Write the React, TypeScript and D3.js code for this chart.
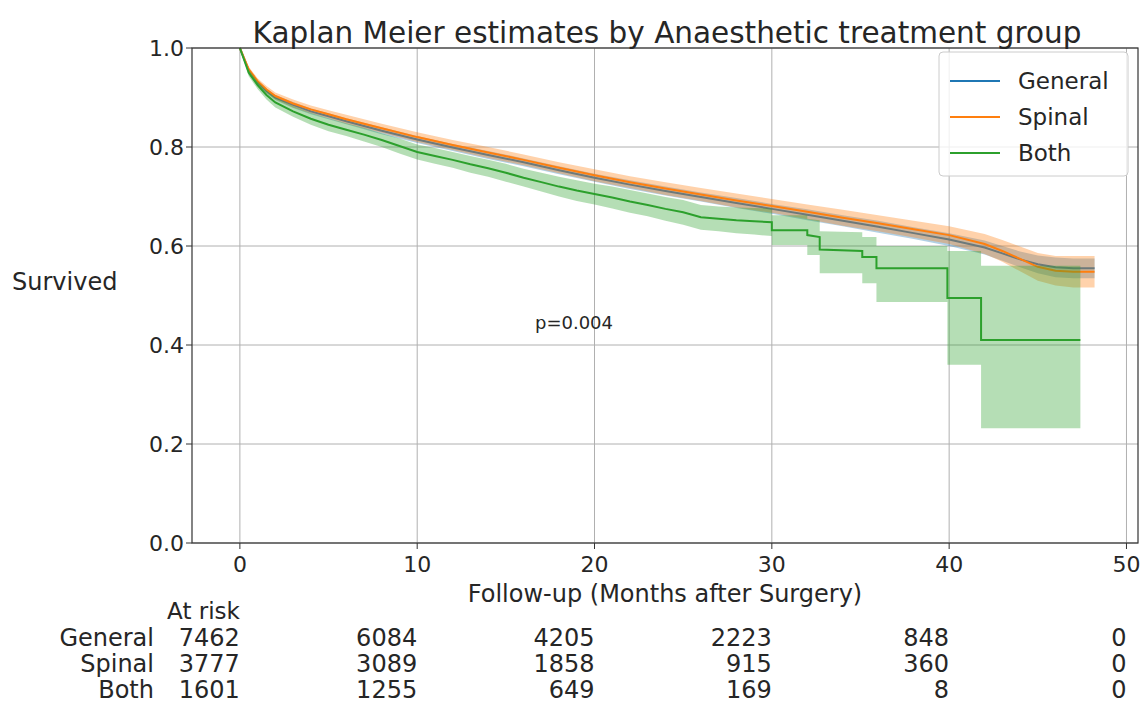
import * as d3 from 'd3';

const groups = ['General', 'Spinal', 'Both'];
const colors = ['#1f77b4', '#ff7f0e', '#2ca02c'];

// survival estimates (months, S(t), CI)
const generalTime = [0, 0.5, 1, 1.5, 2, 3, 4, 5, 6, 8, 10, 12, 14, 16, 18, 20, 22, 24, 26, 28, 30, 32, 34, 36, 38, 40, 42, 43, 44, 45, 46, 47, 48.2];
const generalSurv = [1, 0.955, 0.93, 0.913, 0.9, 0.885, 0.872, 0.862, 0.852, 0.833, 0.815, 0.799, 0.784, 0.769, 0.753, 0.738, 0.724, 0.711, 0.699, 0.687, 0.675, 0.663, 0.651, 0.639, 0.626, 0.613, 0.597, 0.585, 0.573, 0.563, 0.557, 0.555, 0.555];
const generalLower = [1, 0.951, 0.925, 0.908, 0.895, 0.879, 0.866, 0.856, 0.846, 0.826, 0.808, 0.792, 0.776, 0.761, 0.745, 0.73, 0.715, 0.702, 0.69, 0.677, 0.665, 0.652, 0.64, 0.627, 0.614, 0.6, 0.583, 0.57, 0.557, 0.545, 0.537, 0.535, 0.535];
const generalUpper = [1, 0.959, 0.935, 0.918, 0.905, 0.891, 0.878, 0.868, 0.858, 0.84, 0.822, 0.806, 0.792, 0.777, 0.761, 0.746, 0.733, 0.72, 0.708, 0.697, 0.685, 0.674, 0.662, 0.651, 0.638, 0.626, 0.611, 0.6, 0.589, 0.581, 0.577, 0.575, 0.575];

const spinalTime = [0, 0.5, 1, 1.5, 2, 3, 4, 5, 6, 8, 10, 12, 14, 16, 18, 20, 22, 24, 26, 28, 30, 32, 34, 36, 38, 40, 42, 43, 44, 45, 46, 47, 48.2];
const spinalSurv = [1, 0.957, 0.933, 0.916, 0.903, 0.888, 0.876, 0.866, 0.856, 0.838, 0.82, 0.804, 0.789, 0.774, 0.758, 0.743, 0.729, 0.716, 0.704, 0.692, 0.681, 0.669, 0.657, 0.646, 0.634, 0.622, 0.604, 0.59, 0.574, 0.558, 0.55, 0.548, 0.548];
const spinalLower = [1, 0.952, 0.927, 0.909, 0.896, 0.88, 0.868, 0.858, 0.847, 0.829, 0.81, 0.794, 0.778, 0.763, 0.747, 0.731, 0.717, 0.703, 0.691, 0.678, 0.667, 0.654, 0.641, 0.63, 0.617, 0.604, 0.584, 0.568, 0.549, 0.53, 0.52, 0.516, 0.516];
const spinalUpper = [1, 0.962, 0.939, 0.923, 0.91, 0.896, 0.884, 0.874, 0.865, 0.847, 0.83, 0.814, 0.8, 0.785, 0.769, 0.755, 0.741, 0.729, 0.717, 0.706, 0.695, 0.684, 0.673, 0.662, 0.651, 0.64, 0.624, 0.612, 0.599, 0.586, 0.58, 0.58, 0.58];

const bothTime = [0, 0.5, 1, 1.5, 2, 3, 4, 5, 6, 7, 8, 9, 10, 11, 12, 13, 14, 15, 16, 17, 18, 19, 20, 21, 22, 23, 24, 25, 26, 27, 28, 29, 30, 30, 32, 32, 32.7, 32.7, 35.1, 35.1, 35.9, 35.9, 39.9, 39.9, 41.8, 41.8, 47.4];
const bothSurv = [1, 0.95, 0.925, 0.905, 0.89, 0.872, 0.857, 0.845, 0.835, 0.825, 0.814, 0.802, 0.79, 0.782, 0.774, 0.765, 0.757, 0.748, 0.738, 0.729, 0.72, 0.712, 0.705, 0.698, 0.69, 0.683, 0.675, 0.668, 0.658, 0.655, 0.652, 0.65, 0.648, 0.632, 0.632, 0.622, 0.618, 0.593, 0.59, 0.578, 0.578, 0.555, 0.555, 0.495, 0.495, 0.41, 0.41];
const bothLower = [1, 0.943, 0.917, 0.896, 0.88, 0.861, 0.845, 0.832, 0.822, 0.811, 0.8, 0.787, 0.775, 0.766, 0.758, 0.748, 0.74, 0.73, 0.72, 0.71, 0.7, 0.691, 0.684, 0.676, 0.667, 0.66, 0.651, 0.643, 0.633, 0.63, 0.626, 0.623, 0.62, 0.602, 0.602, 0.582, 0.582, 0.545, 0.545, 0.525, 0.525, 0.487, 0.487, 0.36, 0.36, 0.232, 0.232];
const bothUpper = [1, 0.957, 0.933, 0.914, 0.9, 0.883, 0.869, 0.858, 0.848, 0.839, 0.828, 0.817, 0.805, 0.798, 0.79, 0.782, 0.774, 0.766, 0.756, 0.748, 0.74, 0.733, 0.726, 0.72, 0.713, 0.706, 0.699, 0.693, 0.683, 0.68, 0.678, 0.677, 0.676, 0.662, 0.662, 0.655, 0.652, 0.63, 0.628, 0.618, 0.618, 0.6, 0.6, 0.59, 0.59, 0.56, 0.56];

const xTicks = [0, 10, 20, 30, 40, 50];
const yTicks = [0, 0.2, 0.4, 0.6, 0.8, 1.0];
const riskTimes = [0, 10, 20, 30, 40, 50];
const riskGeneral = [7462, 6084, 4205, 2223, 848, 0];
const riskSpinal = [3777, 3089, 1858, 915, 360, 0];
const riskBoth = [1601, 1255, 649, 169, 8, 0];

const W = 1147;
const H = 706;
const font = 'DejaVu Sans, sans-serif';
const ink = '#262626';

export default function App() {
  const x = d3.scaleLinear().domain([-2.7, 50.65]).range([192, 1138]);
  const y = d3.scaleLinear().domain([0, 1]).range([543, 48]);

  const series = [
    { t: generalTime, s: generalSurv, lo: generalLower, hi: generalUpper },
    { t: spinalTime, s: spinalSurv, lo: spinalLower, hi: spinalUpper },
    { t: bothTime, s: bothSurv, lo: bothLower, hi: bothUpper },
  ];
  const risk = [riskGeneral, riskSpinal, riskBoth];

  const [x0, x1] = x.range();
  const [y0, y1] = y.range();

  return (
    <svg width={W} height={H} style={{ position: 'absolute', left: 0, top: 0, background: '#fff' }} fontFamily={font}>
      {/* grid */}
      {xTicks.map((t) => (
        <line key={'gx' + t} x1={x(t)} x2={x(t)} y1={y1} y2={y0} stroke="#b0b0b0" strokeWidth={1} />
      ))}
      {yTicks.map((t) => (
        <line key={'gy' + t} x1={x0} x2={x1} y1={y(t)} y2={y(t)} stroke="#b0b0b0" strokeWidth={1} />
      ))}

      {series.map((d, k) => {
        const idx = d3.range(d.t.length);
        const area = d3
          .area<number>()
          .x((i) => x(d.t[i]))
          .y0((i) => y(d.lo[i]))
          .y1((i) => y(d.hi[i]));
        const path = d3
          .line<number>()
          .x((i) => x(d.t[i]))
          .y((i) => y(d.s[i]));
        return (
          <g key={groups[k]}>
            <path d={area(idx) ?? ''} fill={colors[k]} fillOpacity={0.35} stroke="none" />
            <path d={path(idx) ?? ''} fill="none" stroke={colors[k]} strokeWidth={2} />
          </g>
        );
      })}

      {/* spines */}
      <rect x={x0} y={y1} width={x1 - x0} height={y0 - y1} fill="none" stroke="#333" strokeWidth={1.2} />

      {/* y ticks */}
      {yTicks.map((t) => (
        <g key={'yt' + t}>
          <line x1={x0 - 6} x2={x0} y1={y(t)} y2={y(t)} stroke="#333" />
          <text x={x0 - 8} y={y(t)} dy="0.36em" textAnchor="end" fontSize={22} fill={ink}>
            {t.toFixed(1)}
          </text>
        </g>
      ))}
      {/* x ticks */}
      {xTicks.map((t) => (
        <g key={'xt' + t}>
          <line x1={x(t)} x2={x(t)} y1={y0} y2={y0 + 6} stroke="#333" />
          <text x={x(t)} y={572} textAnchor="middle" fontSize={22} fill={ink}>
            {t}
          </text>
        </g>
      ))}

      <text x={667} y={43} textAnchor="middle" fontSize={29.5} fill={ink}>
        Kaplan Meier estimates by Anaesthetic treatment group
      </text>
      <text x={665} y={602} textAnchor="middle" fontSize={24} fill={ink}>
        Follow-up (Months after Surgery)
      </text>
      <text x={12} y={290} fontSize={24} fill={ink}>
        Survived
      </text>
      <text x={574} y={329} textAnchor="middle" fontSize={18} fill={ink}>
        p=0.004
      </text>

      {/* legend */}
      <rect x={939} y={52} width={189} height={124} rx={4} fill="#fff" fillOpacity={0.8} stroke="#ccc" />
      {groups.map((g, k) => (
        <g key={'lg' + g}>
          <line x1={950} x2={1000} y1={81 + k * 36} y2={81 + k * 36} stroke={colors[k]} strokeWidth={2} />
          <text x={1018} y={81 + k * 36} dy="0.36em" fontSize={23} fill={ink}>
            {g}
          </text>
        </g>
      ))}

      {/* at risk table */}
      <text x={x(0)} y={619} textAnchor="end" fontSize={23} fill={ink}>
        At risk
      </text>
      {groups.map((g, k) => (
        <g key={'risk' + g}>
          <text x={154} y={646 + k * 26} textAnchor="end" fontSize={24} fill={ink}>
            {g}
          </text>
          {riskTimes.map((t, j) => (
            <text key={t} x={x(t)} y={646 + k * 26} textAnchor="end" fontSize={24} fill={ink}>
              {risk[k][j]}
            </text>
          ))}
        </g>
      ))}
    </svg>
  );
}
